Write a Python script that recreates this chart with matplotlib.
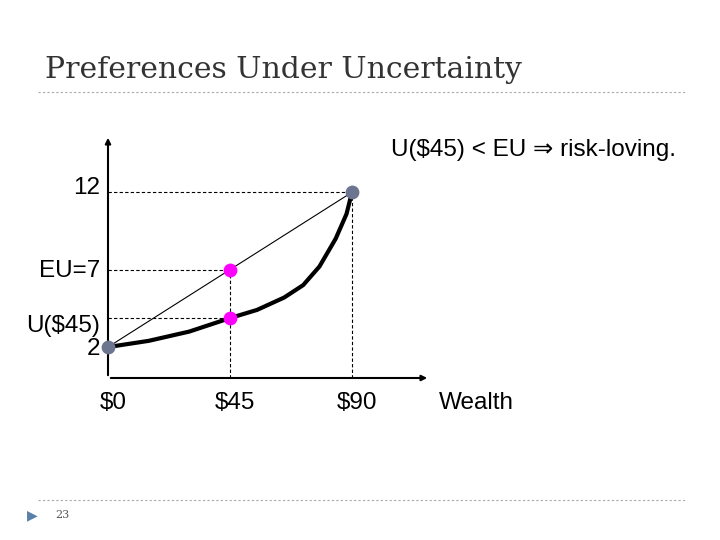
import matplotlib
matplotlib.use("Agg")
import matplotlib.pyplot as plt
import numpy as np

wealth = [0, 15, 30, 45, 55, 65, 72, 78, 84, 88, 90]
utility = [2, 2.4, 3.0, 3.87, 4.4, 5.2, 6.0, 7.2, 9.0, 10.6, 12]
end_x = [0, 90]
end_y = [2, 12]
mid_x = 45
eu = 7
u45 = 3.87
xticks = [0, 45, 90]
xticklabels = ["$0", "$45", "$90"]

fig = plt.figure(figsize=(7.2, 5.4), dpi=100)
fig.patch.set_facecolor("white")
fig.text(45/720, 1-70/540, "Preferences Under Uncertainty", family="DejaVu Serif",
         fontsize=21.5, color="#333333", va="center")
fig.add_artist(plt.Line2D([38/720, 685/720], [1-92/540]*2, ls=(0, (2, 2)), color="#aaaaaa", lw=0.8))
fig.add_artist(plt.Line2D([38/720, 685/720], [1-500/540]*2, ls=(0, (2, 2)), color="#aaaaaa", lw=0.8))
fig.text(27/720, 1-515/540, "▶", fontsize=10, color="#5a7fa8", va="center")
fig.text(55/720, 1-515/540, "23", family="DejaVu Serif", fontsize=8, color="#555555", va="center")

ax = fig.add_axes([108/720, 162/540, 322/720, 243/540])
ax.set_xlim(0, 118.8)
ax.set_ylim(0, 15.7)
ax.axis("off")
ax.annotate("", xy=(0, 15.7), xytext=(0, 0), arrowprops=dict(arrowstyle="-|>", color="black", lw=1.5, mutation_scale=8))
ax.annotate("", xy=(118.8, 0), xytext=(0, 0), arrowprops=dict(arrowstyle="-|>", color="black", lw=1.5, mutation_scale=8))

ax.plot(wealth, utility, color="black", lw=3, solid_capstyle="round")
ax.plot(end_x, end_y, color="black", lw=0.8)
dash = dict(color="black", lw=0.8, ls=(0, (3, 2)))
ax.plot([0, 90], [12, 12], **dash)
ax.plot([90, 90], [0, 12], **dash)
ax.plot([0, mid_x], [eu, eu], **dash)
ax.plot([0, mid_x], [u45, u45], **dash)
ax.plot([mid_x, mid_x], [0, eu], **dash)
ax.scatter(end_x, end_y, s=80, color="#6b7590", zorder=5, clip_on=False)
ax.scatter([mid_x, mid_x], [eu, u45], s=80, color="#ff00ff", zorder=5, clip_on=False)

fs = 17.5
kw = dict(fontsize=fs, family="Liberation Sans")
ax.text(-3, 12.3, "12", ha="right", va="center", **kw)
ax.text(-3, 6.9, "EU=7", ha="right", va="center", **kw)
ax.text(-3, 3.35, "U($45)", ha="right", va="center", **kw)
ax.text(-3, 1.85, "2", ha="right", va="center", **kw)
for xt, lab in zip(xticks, xticklabels):
    ax.text(xt + 2, -1.6, lab, ha="center", va="center", **kw)
ax.text(136, -1.6, "Wealth", ha="center", va="center", clip_on=False, **kw)
fig.text(676/720, 1-150/540, "U($45) < EU ⇒ risk-loving.", ha="right", va="center",
         fontsize=fs, family=["Liberation Sans", "DejaVu Sans"])

fig.savefig("out.png", dpi=100)
